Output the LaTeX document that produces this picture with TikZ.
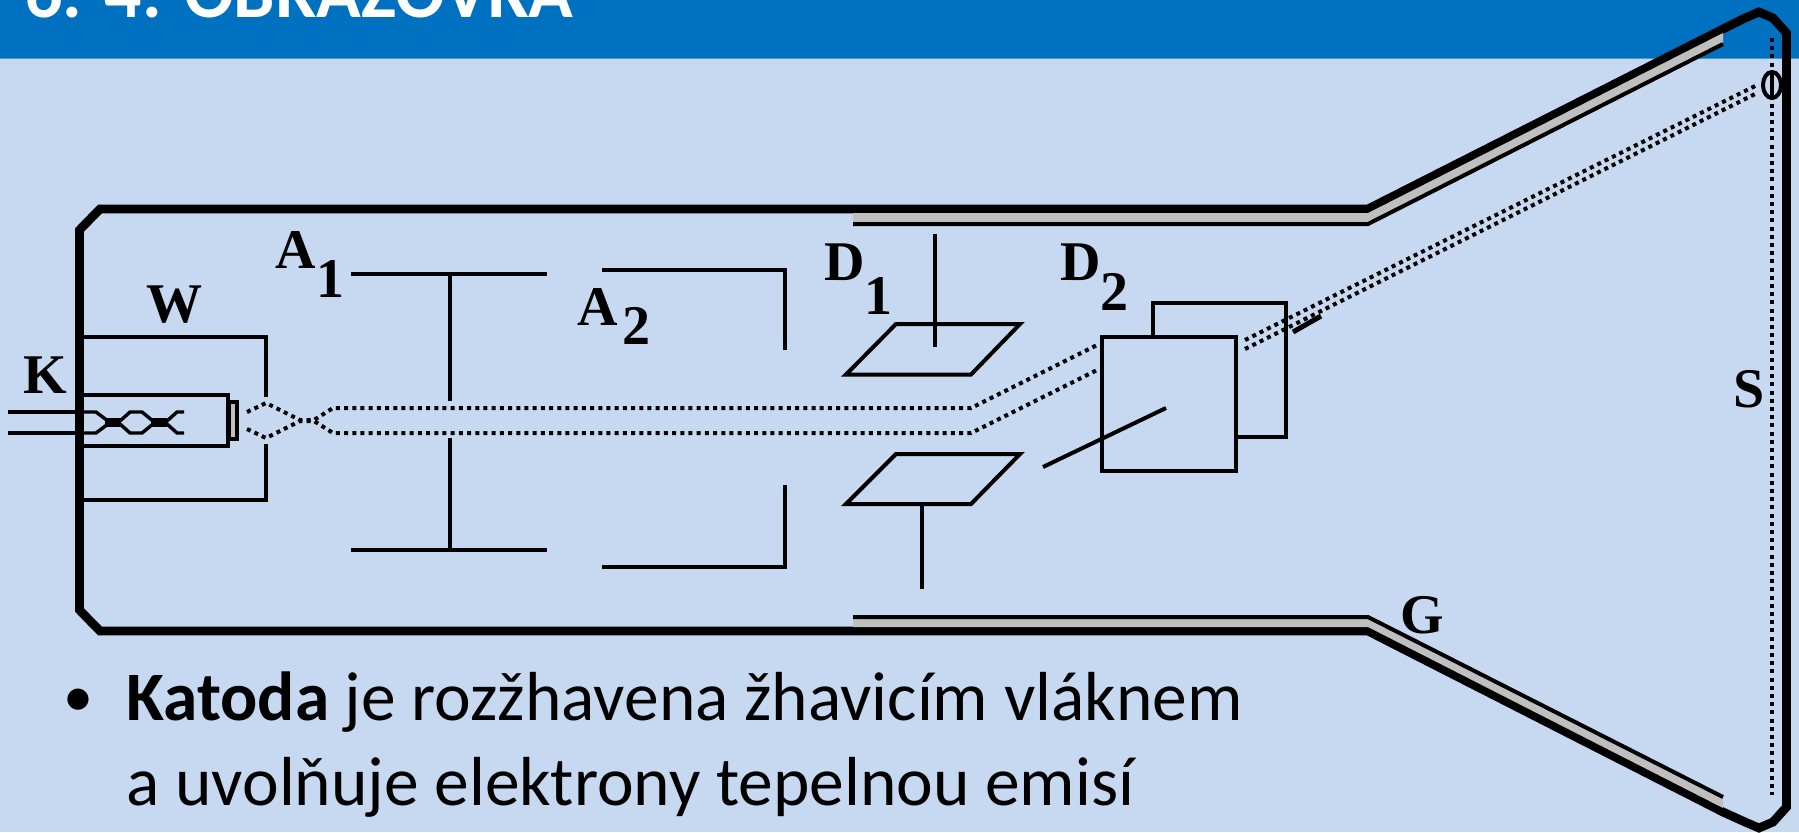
\documentclass[tikz,border=0pt]{standalone}
\usepackage{fontspec}
\setmainfont{Carlito}
\newfontfamily\oldserif{Liberation Serif}[Scale=1]
\definecolor{pagebg}{HTML}{C6D9F1}
\definecolor{headbg}{HTML}{0070C0}
\definecolor{headline}{HTML}{4A96D2}
\definecolor{band}{HTML}{BFBFBF}
\tikzset{
  x=0.5pt,y=-0.5pt,
  wall/.style={line width=4.4pt,line join=miter,draw=black},
  wire/.style={line width=2pt,draw=black,line join=miter},
  bandfill/.style={fill=band,draw=none},
  bandedge/.style={line width=2pt,draw=black},
  beam/.style={line width=2pt,draw=black,dash pattern=on 2pt off 2.1pt},
  glyphlabel/.style={font=\oldserif\bfseries\fontsize{28}{28}\selectfont,anchor=base west,inner sep=0pt,text=black},
  bodytext/.style={font=\fontsize{34.7}{34.7}\selectfont,anchor=base west,inner sep=0pt,text=black},
}
\begin{document}
\begin{tikzpicture}
\useasboundingbox (0,0) rectangle (1799,832);
\clip (0,0) rectangle (1799,832);
\fill[pagebg] (0,0) rectangle (1799,832);
\fill[headbg] (0,0) rectangle (1799,58);
\fill[headline] (0,58) rectangle (1799,59);
\node[anchor=base west,inner sep=0pt,text=white,font=\bfseries\fontsize{36.9}{36.9}\selectfont] (title) at (25,17) {6. 4. OBRAZOVKA};

% envelope
\draw[wall] (1368,209) -- (100,209) -- (79.5,230) -- (79.5,610) -- (100,631) -- (1368,631)
  -- (1723,812) -- (1745,822) -- (1759,828) -- (1773,822) -- (1786.5,807) -- (1786.5,33)
  -- (1773,18) -- (1759,12) -- (1745,18) -- (1723,29) -- cycle;

% coated bands
\fill[bandfill] (853,213) -- (1368,213) -- (1723,33) -- (1723,43) -- (1368,222) -- (853,222) -- cycle;
\draw[bandedge] (853,224) -- (1368,224) -- (1723,44);
\fill[bandfill] (853,618) -- (1368,618) -- (1723,798) -- (1723,808) -- (1368,627) -- (853,627) -- cycle;
\draw[bandedge] (853,617) -- (1368,617) -- (1723,797);

% screen line and spot
\draw[beam] (1772,38) -- (1772,795);
\draw[line width=2pt] (1772,71) -- (1772,100);
\draw[line width=2pt] (1772,85) ellipse (9 and 13);

% cathode wires and housing
\draw[wire] (8,412) -- (84,412);
\draw[wire] (8,433) -- (84,433);
\draw[wire] (84,395) -- (228,395) -- (228,446) -- (84,446);
\draw[line width=1.6pt,fill=band] (229,402) rectangle (237,439);
\draw[line width=1.7pt] (84,412) -- (96,412) -- (108,421) -- (120,421) -- (130,412) -- (142,412) -- (153,421) -- (167,421) -- (177,412) -- (184,412);
\draw[line width=1.7pt] (84,433) -- (96,433) -- (108,424) -- (120,424) -- (130,433) -- (142,433) -- (153,424) -- (167,424) -- (177,433) -- (184,433);
\fill (105,418) rectangle (121,427);
\fill (151,418) rectangle (167,427);

% Wehnelt
\draw[wire] (84,337) -- (266,337) -- (266,397);
\draw[wire] (84,500) -- (266,500) -- (266,444);

% beam
\draw[beam] (247,412) -- (266,403) -- (300,420) -- (314,420) -- (333,408) -- (971,408) -- (1097,345);
\draw[beam] (247,429) -- (266,438) -- (300,421) -- (314,421) -- (333,433) -- (971,433) -- (1097,370);

% A1
\draw[wire] (351,274) -- (547,274);
\draw[wire] (351,550) -- (547,550);
\draw[wire] (450,274) -- (450,401);
\draw[wire] (450,438) -- (450,550);

% A2
\draw[wire] (602,270) -- (785,270) -- (785,350);
\draw[wire] (602,567) -- (785,567) -- (785,485);

% D1
\draw[wire] (935,234) -- (935,347);
\draw[wire] (896,324) -- (1020,324) -- (971,374.5) -- (846,374.5) -- cycle;
\draw[wire] (896,454) -- (1020,454) -- (971,504) -- (846,504) -- cycle;
\draw[wire] (922,504) -- (922,589);

% D2
\draw[wire] (1153,337) -- (1153,303) -- (1286,303) -- (1286,437) -- (1236,437);
\draw[beam] (1245,340) -- (1755,86);
\draw[beam] (1245,349) -- (1755,94);
\draw[line width=2.5pt] (1293,332) -- (1321,316);
\draw[wire] (1043,467) -- (1166,408);
\draw[wire] (1102,337) rectangle (1236,471);

% labels
\node[glyphlabel] (K) at (23,393) {K};
\node[glyphlabel] (W) at (146,322) {W};
\node[glyphlabel] (A1) at (275,268) {A};
\node[glyphlabel] (A1s) at (316,297) {1};
\node[glyphlabel] (A2) at (577,325) {A};
\node[glyphlabel] (A2s) at (622,344) {2};
\node[glyphlabel] (D1) at (824,280) {D};
\node[glyphlabel] (D1s) at (864,314) {1};
\node[glyphlabel] (D2) at (1060,280) {D};
\node[glyphlabel] (D2s) at (1100,310) {2};
\node[glyphlabel] (S) at (1733,407) {S};
\node[glyphlabel] (G) at (1400,633) {G};

% body text
\node[anchor=base west,inner sep=0pt,font=\fontsize{30}{30}\selectfont] (bullet) at (63,716) {•};
\node[bodytext] (line1) at (126,720) {\textbf{Katoda} je rozžhavena žhavicím vláknem};
\node[bodytext] (line2) at (126,805) {a uvolňuje elektrony tepelnou emisí};
\end{tikzpicture}
\end{document}
